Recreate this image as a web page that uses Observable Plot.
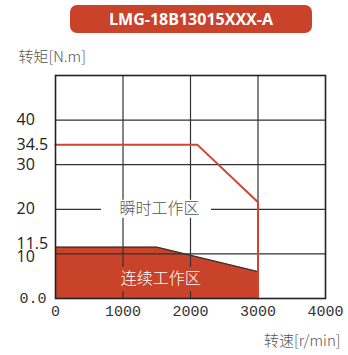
<!DOCTYPE html>
<html>
<head>
<meta charset="utf-8">
<script src="https://cdn.jsdelivr.net/npm/d3@7"></script>
<script src="https://cdn.jsdelivr.net/npm/@observablehq/plot@0.6"></script>
<style>
  html, body { margin: 0; padding: 0; background: #fff; }
  #banner {
    margin: 5px 0 0 70px; width: 242px; height: 28px; border-radius: 7px;
    background: #c9432b; color: #fff; font-family: "Open Sans", sans-serif;
    font-weight: 700; font-size: 16px; line-height: 28px; text-align: center;
  }
  #chart { margin-top: 5px; line-height: 0; }
</style>
</head>
<body>
<div id="banner">LMG-18B13015XXX-A</div>
<div id="chart"></div>
<script>
const title = "LMG-18B13015XXX-A";
const yLabel = "转矩[N.m]";
const xLabel = "转速[r/min]";

const contSpeed = [0, 1500, 3000];
const contTorque = [11.5, 11.5, 6];

const peakSpeed = [0, 2100, 3000, 3000];
const peakTorque = [34.5, 34.5, 21.6, 0];

const xTicks = [0, 1000, 2000, 3000, 4000];
const yGrid = [10, 20, 30, 40];
const yTicks = [10, 11.5, 20, 30, 34.5, 40];
const yTickLabels = ["10", "11.5", "20", "30", "34.5", "40"];

const regionNames = ["瞬时工作区", "连续工作区"];
const regionSpeed = [1540, 1560];
const regionTorque = [20, 4.5];

const cont = contSpeed.map((s, i) => ({s, t: contTorque[i]}));
const peak = peakSpeed.map((s, i) => ({s, t: peakTorque[i]}));
const regions = regionNames.map((n, i) => ({n, s: regionSpeed[i], t: regionTorque[i]}));
const yt = yTicks.map((v, i) => ({v, l: yTickLabels[i]}));

const RED = "#c9432b";
const GRID = "#333";

const chart = Plot.plot({
  width: 348,
  height: 312,
  marginTop: 37,
  marginBottom: 52,
  marginLeft: 55,
  marginRight: 23,
  style: {fontFamily: "'Noto Sans CJK SC', sans-serif", background: "#fff", overflow: "visible"},
  x: {domain: [0, 4000], axis: null},
  y: {domain: [0, 50], axis: null},
  marks: [
    Plot.areaY(cont, {x: "s", y: "t", fill: RED}),
    Plot.ruleX(xTicks.slice(1, 4), {stroke: GRID, strokeWidth: 1.2}),
    Plot.ruleY(yGrid, {stroke: GRID, strokeWidth: 1.2}),
    Plot.line(cont, {x: "s", y: "t", stroke: GRID, strokeWidth: 1.3}),
    Plot.rect(regions.slice(0, 1), {x1: "s", x2: "s", y1: "t", y2: "t", fill: "#fff",
      insetLeft: -58, insetRight: -52, insetTop: -9, insetBottom: -9}),
    Plot.rect(regions.slice(1), {x1: "s", x2: "s", y1: "t", y2: "t", fill: RED,
      insetLeft: -52, insetRight: -52, insetTop: -11, insetBottom: -13}),
    Plot.line(peak, {x: "s", y: "t", stroke: "#d0452d", strokeWidth: 2}),
    Plot.frame({stroke: "#222", strokeWidth: 1.6}),
    Plot.text(regions.slice(0, 1), {x: "s", y: "t", text: "n", fill: "#555", fontSize: 16, fontWeight: 300, ariaLabel: "region"}),
    Plot.text(regions.slice(1), {x: "s", y: "t", text: "n", fill: "#fff", fontSize: 16, fontWeight: 300, ariaLabel: "region"}),
    Plot.text(xTicks, {x: d => d, frameAnchor: "bottom", dy: 17, text: d => String(d),
      fontFamily: "'Liberation Mono', monospace", fontSize: 15, fill: "#333"}),
    Plot.text(yt.filter(d => d.v !== 11.5 && d.v !== 10), {y: "v", text: "l", frameAnchor: "left", dx: -39, textAnchor: "start",
      fontFamily: "'Open Sans', sans-serif", fontSize: 16, fill: "#222"}),
    Plot.text(yt.filter(d => d.v === 11.5), {y: "v", text: "l", frameAnchor: "left", dx: -39, dy: -3, textAnchor: "start",
      fontFamily: "'Open Sans', sans-serif", fontSize: 16, fill: "#222"}),
    Plot.text(yt.filter(d => d.v === 10), {y: "v", text: "l", frameAnchor: "left", dx: -39, dy: 3, textAnchor: "start",
      fontFamily: "'Open Sans', sans-serif", fontSize: 16, fill: "#222"}),
    Plot.text(["0.0"], {y: 0, text: d => d, frameAnchor: "left", dx: -36, textAnchor: "start",
      fontFamily: "'Liberation Mono', monospace", fontSize: 15, fill: "#333"}),
    Plot.text([yLabel], {text: d => d, frameAnchor: "top-left", dx: -37, dy: -24, textAnchor: "start",
      fontSize: 15, fontWeight: 300, fill: "#555"}),
    Plot.text([xLabel], {text: d => d, frameAnchor: "bottom-right", dx: 15, dy: 47, textAnchor: "end",
      fontSize: 15, fontWeight: 300, fill: "#555"})
  ]
});
d3.select(chart).selectAll("g[aria-label='region'] text").style("letter-spacing", "2px");
document.getElementById("chart").appendChild(chart);
</script>
</body>
</html>
